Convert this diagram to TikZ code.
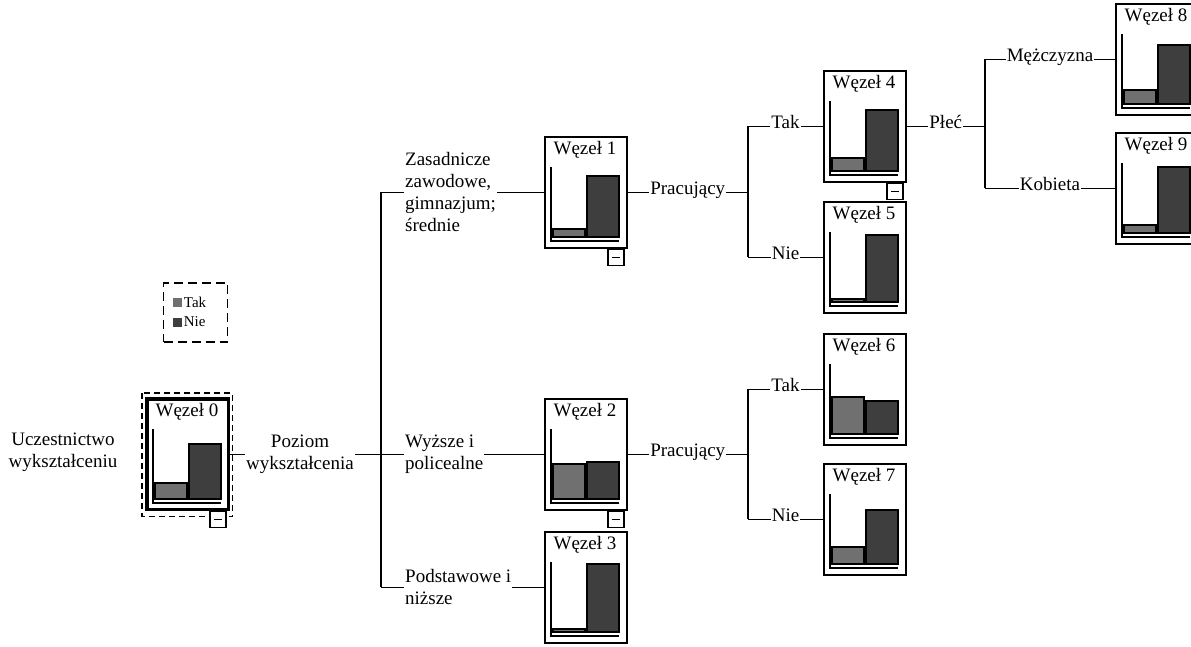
\documentclass[tikz,border=0pt]{standalone}
\usepackage{fontspec}
\setmainfont{Liberation Serif}
\usepackage{tikz}
\usetikzlibrary{calc}
\definecolor{TakGray}{RGB}{112,112,112}
\definecolor{NieGray}{RGB}{62,62,62}
\tikzset{
  nodebox/.style={draw,line width=1.5pt,fill=white,minimum width=82pt,minimum height=111pt,inner sep=0pt},
  titletext/.style={font=\fontsize{19}{22}\selectfont,inner sep=0pt},
  takbar/.style={draw,line width=1.2pt,fill=TakGray},
  niebar/.style={draw,line width=1.2pt,fill=NieGray},
  minusbox/.style={draw,line width=1.2pt,fill=white,minimum size=16pt,inner sep=0pt},
  lbl/.style={font=\fontsize{19}{22}\selectfont,inner sep=1pt},
  legtext/.style={font=\fontsize{15}{17}\selectfont,inner sep=1.5pt},
  branch/.style={line width=1.5pt},
}
\newcommand{\TreeNode}[6]{% name number x y tak nie
\node[nodebox,anchor=north west] (#1) at (#3,#4) {};
\node[titletext] (#1title) at ($(#1.north west)+(41,14)$) {Węzeł #2};
\draw[line width=1.2pt] ($(#1.north west)+(7,31)$) |- ($(#1.north west)+(75,105)$);
\draw[takbar] ($(#1.north west)+(9,101)$) rectangle ++(32,-#5);
\draw[niebar] ($(#1.north west)+(43,101)$) rectangle ++(32,-#6);
}
\newcommand{\Collapse}[1]{% minus box under a node
\node[minusbox,anchor=north east] (#1minus) at ($(#1.south east)+(-3,0)$) {};
\draw[line width=1.2pt] ($(#1minus.center)+(-4,0)$) -- ($(#1minus.center)+(4,0)$);
}

\begin{document}
\begin{tikzpicture}[x=1pt,y=-1pt]
\useasboundingbox (0,0) rectangle (1191,646);
% legend
\node[draw,line width=1.5pt,dash pattern=on 9pt off 5pt,minimum width=64pt,minimum height=59pt] (legend) at (195.5,312.5) {};
\node[fill=TakGray,minimum size=9pt,inner sep=0pt] (legtak) at (177.5,302) {};
\node[fill=NieGray,minimum size=9pt,inner sep=0pt] (legnie) at (177.5,322) {};
\node[legtext,anchor=west] (legtaktext) at (legtak.east) {Tak};
\node[legtext,anchor=west] (legnietext) at (legnie.east) {Nie};
% root node
\TreeNode{w0}{0}{146}{398}{16}{55}
\draw[line width=3.5pt] ($(w0.north west)+(1,1)$) rectangle ($(w0.south east)+(-1,-1)$);
\draw[line width=1.5pt,dash pattern=on 6pt off 4pt] ($(w0.north west)+(-4,-5)$) rectangle ($(w0.south east)+(3,6)$);
\Collapse{w0}
% target variable
\coordinate (labtarget) at (63,0);
\coordinate (labsplit) at (300,0);
\node[lbl,align=center] (target) at ($(labtarget |- w0.east)+(0,-2)$) {Uczestnictwo\\wykształceniu};
% first split
\TreeNode{w1}{1}{544}{136}{8}{61}
\Collapse{w1}
\TreeNode{w2}{2}{544}{398}{35}{37}
\Collapse{w2}
\TreeNode{w3}{3}{544}{531}{3}{68}
\coordinate (t0) at (381,0);
\coordinate (lab0) at (404,0);
\node[lbl,align=center] (poziom) at (labsplit |- w0.east) {Poziom\\wykształcenia};
\node[lbl,align=left,anchor=west] (zasad) at (lab0 |- w1.west) {Zasadnicze\\zawodowe,\\gimnazjum;\\średnie};
\node[lbl,align=left,anchor=west] (wyzsze) at (lab0 |- w0.east) {Wyższe i\\policealne};
\node[lbl,align=left,anchor=west] (podst) at (lab0 |- w3.west) {Podstawowe i\\niższe};
\draw[branch] (w0.east) -- (poziom.west);
\draw[branch] (poziom.east) -- (wyzsze.west);
\draw[branch] (t0 |- w1.west) -- (t0 |- w3.west);
\draw[branch] (t0 |- w1.west) -- (zasad.west);
\draw[branch] (t0 |- w3.west) -- (podst.west);
\draw[branch] (zasad.east) -- (w1.west);
\draw[branch] (wyzsze.east) -- (w2.west);
\draw[branch] (podst.east) -- (w3.west);
% Pracujący under node 1
\TreeNode{w4}{4}{823}{70}{13}{61}
\Collapse{w4}
\TreeNode{w5}{5}{823}{201}{3}{67}
\coordinate (t1) at (748,0);
\node[lbl,anchor=mid] (prac1) at ($(w1.east)!0.5!(t1 |- w1.east)$) {Pracujący};
\node[lbl,anchor=mid] (tak4) at ($(t1 |- w4.west)!0.5!(w4.west)$) {Tak};
\node[lbl,anchor=mid] (nie5) at ($(t1 |- w5.west)!0.5!(w5.west)$) {Nie};
\draw[branch] (w1.east) -- (prac1.mid west);
\draw[branch] (prac1.mid east) -- (t1 |- w1.east);
\draw[branch] (t1 |- w4.west) -- (t1 |- w5.west);
\draw[branch] (t1 |- w4.west) -- (tak4.mid west);
\draw[branch] (tak4.mid east) -- (w4.west);
\draw[branch] (t1 |- w5.west) -- (nie5.mid west);
\draw[branch] (nie5.mid east) -- (w5.west);
% Pracujący under node 2
\TreeNode{w6}{6}{823}{333}{37}{33}
\TreeNode{w7}{7}{823}{463}{17}{54}
\node[lbl,anchor=mid] (prac2) at ($(w2.east)!0.5!(t1 |- w2.east)$) {Pracujący};
\node[lbl,anchor=mid] (tak6) at ($(t1 |- w6.west)!0.5!(w6.west)$) {Tak};
\node[lbl,anchor=mid] (nie7) at ($(t1 |- w7.west)!0.5!(w7.west)$) {Nie};
\draw[branch] (w2.east) -- (prac2.mid west);
\draw[branch] (prac2.mid east) -- (t1 |- w2.east);
\draw[branch] (t1 |- w6.west) -- (t1 |- w7.west);
\draw[branch] (t1 |- w6.west) -- (tak6.mid west);
\draw[branch] (tak6.mid east) -- (w6.west);
\draw[branch] (t1 |- w7.west) -- (nie7.mid west);
\draw[branch] (nie7.mid east) -- (w7.west);
% Płeć under node 4
\TreeNode{w8}{8}{1115}{3}{14}{59}
\TreeNode{w9}{9}{1115}{132}{8}{66}
\coordinate (t2) at (985,0);
\node[lbl,anchor=mid] (plec) at ($(w4.east)!0.5!(t2 |- w4.east)$) {Płeć};
\node[lbl,anchor=mid] (mez8) at ($(t2 |- w8.west)!0.5!(w8.west)$) {Mężczyzna};
\node[lbl,anchor=mid] (kob9) at ($(t2 |- w9.west)!0.5!(w9.west)$) {Kobieta};
\draw[branch] (w4.east) -- (plec.mid west);
\draw[branch] (plec.mid east) -- (t2 |- w4.east);
\draw[branch] (t2 |- w8.west) -- (t2 |- w9.west);
\draw[branch] (t2 |- w8.west) -- (mez8.mid west);
\draw[branch] (mez8.mid east) -- (w8.west);
\draw[branch] (t2 |- w9.west) -- (kob9.mid west);
\draw[branch] (kob9.mid east) -- (w9.west);
\end{tikzpicture}
\end{document}
